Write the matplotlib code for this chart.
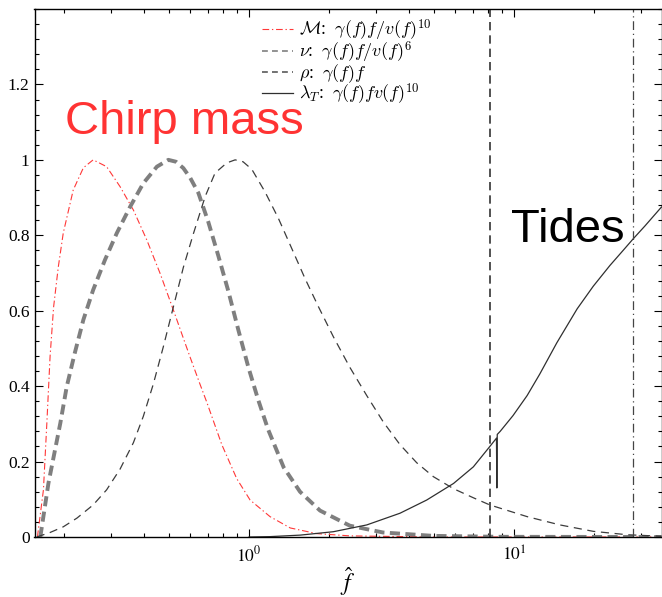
import matplotlib
matplotlib.use("Agg")
import matplotlib.pyplot as plt
from matplotlib.lines import Line2D
from matplotlib.ticker import FixedLocator, LogLocator, NullFormatter, FixedFormatter

plt.rcParams['mathtext.fontset'] = 'stix'
plt.rcParams['font.family'] = ['Liberation Serif', 'DejaVu Serif']

# ---- data ----
f_chirp = [0.159, 0.1675, 0.1725, 0.1775, 0.183, 0.1906, 0.199, 0.217, 0.237, 0.258,
           0.290, 0.326, 0.366, 0.411, 0.461, 0.518, 0.565, 0.599, 0.653, 0.692,
           0.789, 0.898, 1.009, 1.2, 1.43, 1.80, 2.4, 4.95, 36.0]
v_chirp = [0.0, 0.125, 0.30, 0.48, 0.61, 0.716, 0.806, 0.92, 0.979, 1.0,
           0.982, 0.929, 0.867, 0.788, 0.70, 0.602, 0.527, 0.477, 0.405, 0.358,
           0.245, 0.155, 0.098, 0.054, 0.024, 0.009, 0.003, 0.0, 0.0]

f_nu = [0.163, 0.175, 0.183, 0.194, 0.205, 0.220, 0.237, 0.258, 0.286, 0.317,
        0.356, 0.399, 0.449, 0.496, 0.53, 0.565, 0.60, 0.644, 0.702, 0.766, 0.835, 0.911,
        0.994, 1.081, 1.18, 1.35, 1.557, 1.853, 2.40, 3.20, 4.95, 8.86, 36.0]
v_nu = [0.0, 0.143, 0.212, 0.302, 0.398, 0.488, 0.576, 0.655, 0.735, 0.806,
        0.876, 0.938, 0.982, 1.0, 0.995, 0.978, 0.952, 0.912, 0.835, 0.745, 0.652, 0.549,
        0.45, 0.365, 0.285, 0.185, 0.12, 0.07, 0.03, 0.012, 0.003, 0.0005, 0.0]

f_rho = [0.158, 0.1775, 0.199, 0.224, 0.258, 0.290, 0.326, 0.366, 0.399, 0.435,
         0.475, 0.518, 0.565, 0.617, 0.683, 0.744, 0.824, 0.886, 0.949, 1.024,
         1.149, 1.29, 1.449, 1.627, 1.826, 2.08, 2.40, 2.78, 3.21, 3.71,
         4.29, 4.96, 5.91, 7.02, 8.1, 11.2, 14.9, 19.9, 26.7, 36.0]
v_rho = [0.0, 0.012, 0.027, 0.05, 0.085, 0.125, 0.18, 0.25, 0.32, 0.405,
         0.505, 0.61, 0.715, 0.805, 0.903, 0.965, 0.992, 1.0, 0.995, 0.975,
         0.915, 0.845, 0.765, 0.685, 0.611, 0.531, 0.45, 0.375, 0.305, 0.245,
         0.197, 0.16, 0.128, 0.104, 0.085, 0.054, 0.032, 0.015, 0.006, 0.002]

f_tide = [1.0, 1.2, 1.56, 2.08, 2.78, 3.71, 4.68, 5.91, 7.02, 8.1, 8.58,
          8.61, 8.64, 8.86, 9.91, 11.2, 12.5, 14.5, 17.3, 19.9, 23.0, 25.8,
          28.1, 31.2, 36.0]
v_tide = [0.0, 0.001, 0.005, 0.014, 0.032, 0.063, 0.098, 0.142, 0.186, 0.24, 0.262,
          0.13, 0.272, 0.28, 0.322, 0.375, 0.432, 0.515, 0.605, 0.665, 0.72, 0.76,
          0.79, 0.825, 0.875]

vline_dashed = 8.12
vline_dashdot = 28.05

legend_labels = [r'$\mathcal{M}$:  $\gamma(f)f/v(f)^{10}$',
                 r'$\nu$:  $\gamma(f)f/v(f)^{6}$',
                 r'$\rho$:  $\gamma(f)f$',
                 r'$\lambda_T$:  $\gamma(f)fv(f)^{10}$']
yticks = [0, 0.2, 0.4, 0.6, 0.8, 1.0, 1.2]
ytick_labels = ['0', '0.2', '0.4', '0.6', '0.8', '1', '1.2']
xticks = [1, 10]
xtick_labels = [r'$10^0$', r'$10^1$']

# ---- figure ----
fig = plt.figure(figsize=(6.62, 5.97), dpi=100)
ax = fig.add_axes([34.5/662, 1-537/597, (661.5-34.5)/662, (537-9)/597])

red_style = dict(color='#ff3838', lw=0.8, dashes=(6, 2.5, 1.2, 2.5))
nu_style = dict(color='#7f7f7f', lw=2.8, dashes=(2.6, 1.4))
rho_style = dict(color='#3c3c3c', lw=0.9, dashes=(6.5, 4.5))
tide_style = dict(color='#2f2f2f', lw=0.9)

ax.plot(f_chirp, v_chirp, **red_style)
ax.plot(f_nu, v_nu, **nu_style)
ax.plot(f_rho, v_rho, **rho_style)
ax.plot(f_tide, v_tide, **tide_style)

ax.axvline(vline_dashed, color='#333333', lw=1.2, dashes=(5, 3))
ax.axvline(vline_dashdot, color='#444444', lw=0.9, dashes=(7, 3, 1, 3))

ax.set_xscale('log')
ax.set_xlim(0.155, 36.0)
ax.set_ylim(0, 1.4)

ax.xaxis.set_major_locator(FixedLocator(xticks))
ax.xaxis.set_major_formatter(FixedFormatter(xtick_labels))
ax.xaxis.set_minor_locator(LogLocator(base=10, subs=range(2, 10), numticks=20))
ax.xaxis.set_minor_formatter(NullFormatter())
ax.yaxis.set_major_locator(FixedLocator(yticks))
ax.yaxis.set_major_formatter(FixedFormatter(ytick_labels))
ax.yaxis.set_minor_locator(FixedLocator([i*0.04 for i in range(0, 36)]))

ax.tick_params(which='both', direction='in', top=True, right=True, labelsize=12.5, width=0.8)
ax.tick_params(which='major', length=6)
ax.tick_params(which='minor', length=3)
ax.tick_params(axis='x', which='major', pad=6)
for s in ax.spines.values():
    s.set_linewidth(1.0)

ax.set_xlabel(r'$\hat{f}$', fontsize=17, labelpad=0)

handles = [Line2D([], [], **red_style),
           Line2D([], [], color='#7f7f7f', lw=1.2, dashes=(3.5, 2.5)),
           Line2D([], [], color='#5a5a5a', lw=1.2, dashes=(3.5, 2.5)),
           Line2D([], [], **tide_style)]
ax.legend(handles, legend_labels, loc='upper left', bbox_to_anchor=(0.3628, 0.984),
          frameon=False, prop=dict(size=13, math_fontfamily='cm'),
          handlelength=1.7, handletextpad=0.37,
          labelspacing=-0.17, borderaxespad=0.0, borderpad=0.0)

fig.text(65/662, 1-134/597, 'Chirp mass', color='#ff3333', fontsize=34,
         family=['Liberation Sans', 'DejaVu Sans'], va='baseline', ha='left')
fig.text(511/662, 1-242/597, 'Tides', color='black', fontsize=34,
         family=['Liberation Sans', 'DejaVu Sans'], va='baseline', ha='left')

fig.savefig('out.png', dpi=100)
